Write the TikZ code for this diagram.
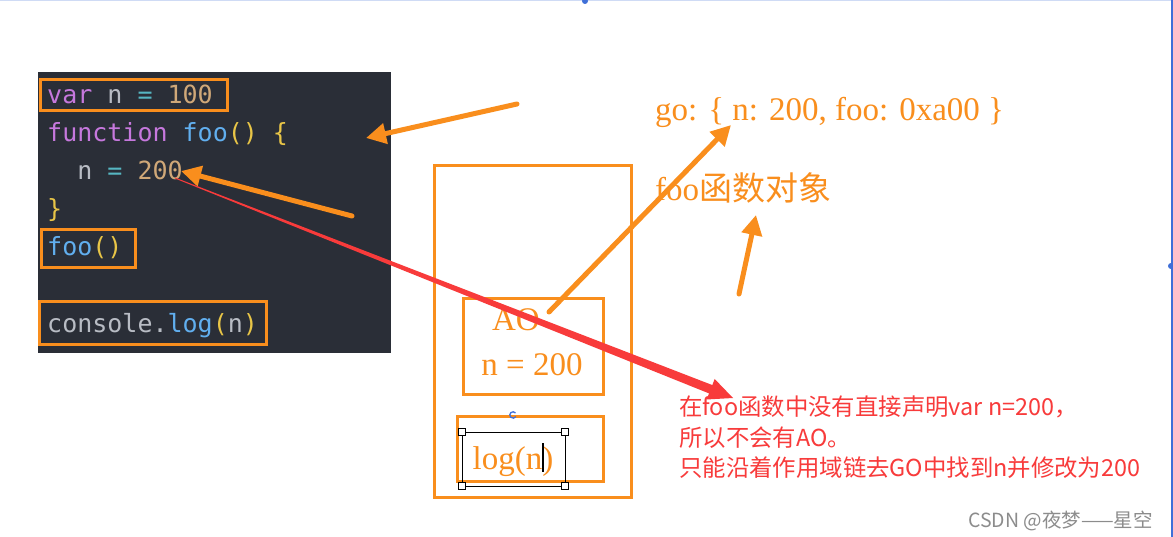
\documentclass[tikz,border=0pt]{standalone}
\usepackage{fontspec}
\setmainfont{Liberation Serif}
\newfontfamily\cjk{Noto Sans CJK SC}
\newfontfamily\codefont{DejaVu Sans Mono}
\usetikzlibrary{arrows.meta,calc}
\definecolor{codebg}{HTML}{2A2E37}
\definecolor{ora}{HTML}{F98E1D}
\definecolor{redc}{HTML}{F83B3B}
\definecolor{kw}{HTML}{C678DD}
\definecolor{idc}{HTML}{B8BCC4}
\definecolor{opc}{HTML}{56B6C2}
\definecolor{numc}{HTML}{D0A878}
\definecolor{fnc}{HTML}{61AFEF}
\definecolor{parc}{HTML}{E8C547}
\definecolor{selblue}{HTML}{3F6FD8}
\tikzset{
  codeline/.style={anchor=base west, inner sep=0pt, font=\codefont\fontsize{25}{30}\selectfont},
  obox/.style={draw=ora, line width=3pt},
  serifo/.style={text=ora, inner sep=0pt, font=\fontsize{33}{36}\selectfont},
  oarrow/.style={draw=ora, line width=5pt, line cap=round, -{Triangle[length=20pt,width=20pt]}},
  redtext/.style={text=redc, anchor=base west, inner sep=0pt, font=\cjk\fontsize{23.4}{28}\selectfont},
  handle/.style={draw=black, fill=white, line width=0.8pt, minimum size=7pt, inner sep=0pt}
}
\begin{document}
\begin{tikzpicture}[x=1pt,y=-1pt]
\useasboundingbox[fill=white] (0,0) rectangle (1173,537);
% selection artifacts
\draw[selblue!25, line width=1pt] (0,0.5) -- (1173,0.5);
\draw[selblue, line width=1.2pt] (1172,0) -- (1172,537);
\fill[selblue] (1171,266) circle (3pt);
\fill[selblue] (585,1) circle (3pt);
% code panel
\fill[codebg] (38,72) rectangle (391,353);
\node[codeline] (l1) at (47,104) {\textcolor{kw}{var} \textcolor{idc}{n} \textcolor{opc}{=} \textcolor{numc}{100}};
\node[codeline] (l2) at (47,142) {\textcolor{kw}{function} \textcolor{fnc}{foo}\textcolor{parc}{() \{}};
\node[codeline] (l3) at (47,180) {\phantom{mm}\textcolor{idc}{n} \textcolor{opc}{=} \textcolor{numc}{200}};
\node[codeline] (l4) at (47,218) {\textcolor{parc}{\}}};
\node[codeline] (l5) at (47,256) {\textcolor{fnc}{foo}\textcolor{parc}{()}};
\node[codeline] (l6) at (47,333) {\textcolor{idc}{console.}\textcolor{fnc}{log}\textcolor{parc}{(}\textcolor{idc}{n}\textcolor{parc}{)}};
\draw[obox] (40,80) rectangle (227,111);
\draw[obox] (41,230) rectangle (135,268);
\draw[obox] (39,302) rectangle (266,345);
% memory boxes
\node[obox, minimum width=197pt, minimum height=331pt, inner sep=0pt] (ec) at (532.5,331.5) {};
\node[obox, minimum width=140pt, minimum height=95pt, inner sep=0pt] (ao) at (533,346.5) {};
\node[serifo] (aot) at (516,320) {AO};
\node[serifo] (aon) at (532,365) {n = 200};
\node[obox, minimum width=146pt, minimum height=65pt, inner sep=0pt] (lg) at (530,448.5) {};
\draw[black, line width=0.8pt] (462,432) rectangle (565,486);
\node[serifo, anchor=base] (lgt) at (513,469) {log(n)};
\draw[black, line width=2pt] (543,443) -- (543,472);
\node[handle] (h1) at (462,432) {};
\node[handle] (h2) at (565,432) {};
\node[handle] (h3) at (462,486) {};
\node[handle] (h4) at (565,486) {};
\draw[selblue, line width=1.3pt] (513,415) ++(40:3.2pt) arc (40:330:3.2pt);
% right-hand texts
\node[serifo, anchor=base west] (go) at (655,121) {go: \{ n: 200, foo: 0xa00 \}};
\node[serifo, anchor=base west] (fo) at (655,201) {foo{\cjk 函数对象}};
% orange arrows
\coordinate (a1s) at (517,104); \coordinate (a1e) at (366,138);
\coordinate (a2s) at (352,216); \coordinate (a2e) at (181,171);
\coordinate (a3s) at (549,312); \coordinate (a3e) at (731,125);
\coordinate (a4s) at (739,294); \coordinate (a4e) at (756,215);
\draw[oarrow] (a1s) -- (a1e);
\draw[oarrow] (a2s) -- (a2e);
\draw[oarrow] (a3s) -- (a3e);
\draw[oarrow] (a4s) -- (a4e);
% red tapered arrow
\coordinate (rs) at (175,178);
\coordinate (rt) at (733,398);
\fill[redc] ($(rs)+(0,-0.5)$) -- ($(rs)+(0,0.5)$) -- ($(rt)+(-22*0.931,-22*0.365)+(-4.5*0.365,4.5*0.931)$) -- ($(rt)+(-22*0.931,-22*0.365)+(4.5*0.365,-4.5*0.931)$) -- cycle;
\fill[redc] (rt) -- ($(rt)+(-24*0.931,-24*0.365)+(-11*0.365,11*0.931)$) -- ($(rt)+(-24*0.931,-24*0.365)+(11*0.365,-11*0.931)$) -- cycle;
% red explanation
\node[redtext] (r1) at (679,415) {在foo函数中没有直接声明var n=200，};
\node[redtext] (r2) at (679,446) {所以不会有AO。};
\node[redtext] (r3) at (679,476) {只能沿着作用域链去GO中找到n并修改为200};
\node[anchor=base west, inner sep=0pt, text=black!45, font=\cjk\fontsize{19.5}{22}\selectfont] (wm) at (968,527) {CSDN @夜梦——星空};
\end{tikzpicture}
\end{document}
